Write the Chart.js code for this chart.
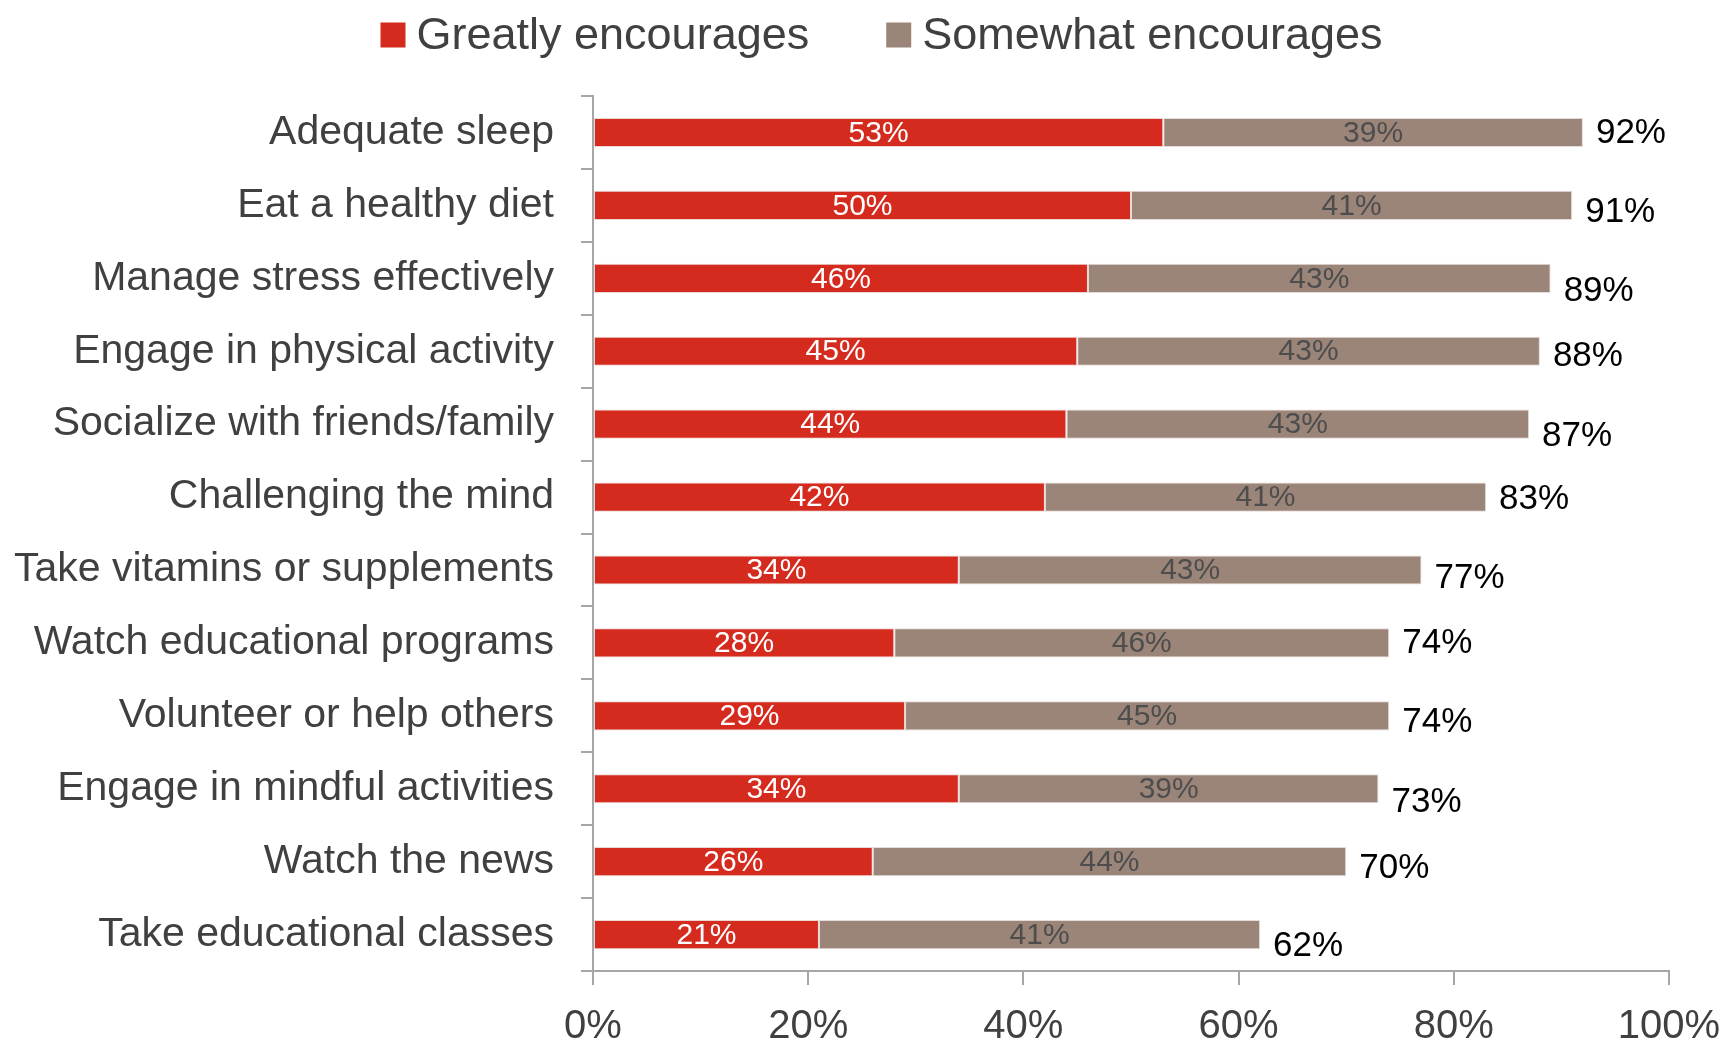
<!DOCTYPE html>
<html>
<head>
<meta charset="utf-8">
<script src="https://cdn.jsdelivr.net/npm/chart.js@4"></script>
<style>
  html, body { margin: 0; padding: 0; background: #ffffff; }
  #wrap { width: 1729px; height: 1052px; position: relative; }
</style>
</head>
<body>
<div id="wrap"><canvas id="encourageChart"></canvas></div>
<script>
const activities = [
  'Adequate sleep',
  'Eat a healthy diet',
  'Manage stress effectively',
  'Engage in physical activity',
  'Socialize with friends/family',
  'Challenging the mind',
  'Take vitamins or supplements',
  'Watch educational programs',
  'Volunteer or help others',
  'Engage in mindful activities',
  'Watch the news',
  'Take educational classes'
];
const greatly = [53, 50, 46, 45, 44, 42, 34, 28, 29, 34, 26, 21];
const somewhat = [39, 41, 43, 43, 43, 41, 43, 46, 45, 39, 44, 41];
const xTicks = [0, 20, 40, 60, 80, 100];

// vertical nudge (px) of each total label, they were placed by hand
const totalLabelDy = [0, 6, 12, 4, 11, 1, 7, -1, 6, 13, 6, 11];

const FONT = '"Liberation Sans", Arial, sans-serif';
const TEXT_GREY = '#404040';
const AXIS_GREY = '#a6a6a6';

// Legend drawn by hand so box/text spacing can be controlled
const legendPlugin = {
  id: 'topLegend',
  afterDraw(chart) {
    const ctx = chart.ctx;
    const box = 25, gap = 11, itemGap = 77, cy = 37;
    ctx.save();
    ctx.font = '45px ' + FONT;
    ctx.textBaseline = 'middle';
    const items = chart.data.datasets.map(ds => ({
      text: ds.label, color: ds.backgroundColor, w: ctx.measureText(ds.label).width
    }));
    const total = items.reduce((s, it) => s + box + gap + it.w, 0) + itemGap * (items.length - 1);
    let x = chart.width / 2 - total / 2 + 17;
    items.forEach(it => {
      ctx.fillStyle = it.color;
      ctx.fillRect(x, cy - box / 2 - 2, box, box);
      ctx.fillStyle = TEXT_GREY;
      ctx.textAlign = 'left';
      ctx.fillText(it.text, x + box + gap, cy);
      x += box + gap + it.w + itemGap;
    });
    ctx.restore();
  }
};

// Segment values inside bars, total at the end of each row
const barLabelsPlugin = {
  id: 'barLabels',
  afterDatasetsDraw(chart) {
    const ctx = chart.ctx;
    ctx.save();
    ctx.textBaseline = 'middle';
    chart.data.datasets.forEach((ds, di) => {
      const meta = chart.getDatasetMeta(di);
      ctx.font = '30px ' + FONT;
      ctx.textAlign = 'center';
      ctx.fillStyle = di === 0 ? '#ffffff' : '#4d4d4d';
      meta.data.forEach((bar, i) => {
        ctx.fillText(ds.data[i] + '%', (bar.x + bar.base) / 2, bar.y + 1);
      });
    });
    const last = chart.getDatasetMeta(chart.data.datasets.length - 1);
    ctx.font = '35px ' + FONT;
    ctx.textAlign = 'left';
    ctx.fillStyle = '#000000';
    last.data.forEach((bar, i) => {
      const total = chart.data.datasets.reduce((s, ds) => s + ds.data[i], 0);
      ctx.fillText(total + '%', bar.x + 13, bar.y + 1 + totalLabelDy[i]);
    });
    ctx.restore();
  }
};

const ctx = document.getElementById('encourageChart').getContext('2d');
new Chart(ctx, {
  type: 'bar',
  data: {
    labels: activities,
    datasets: [{
      label: 'Greatly encourages',
      data: greatly,
      backgroundColor: '#d52b1e',
      borderColor: '#ecd6d3',
      borderWidth: 1,
      borderSkipped: false
    }, {
      label: 'Somewhat encourages',
      data: somewhat,
      backgroundColor: '#9b8579',
      borderColor: '#e4dcd8',
      borderWidth: 1,
      borderSkipped: false
    }]
  },
  options: {
    indexAxis: 'y',
    responsive: true,
    maintainAspectRatio: false,
    animation: false,
    datasets: {
      bar: { barPercentage: 0.4, categoryPercentage: 1 }
    },
    layout: {
      padding: { top: 96, right: 60, left: 0, bottom: 0 }
    },
    plugins: {
      legend: { display: false },
      tooltip: { enabled: false }
    },
    scales: {
      x: {
        stacked: true,
        min: 0,
        max: 100,
        afterFit: function(scale) {
          scale.height = 81;
          scale.paddingLeft = 0;
          scale.paddingRight = 0;
        },
        afterBuildTicks: function(scale) {
          scale.ticks = xTicks.map(v => ({ value: v }));
        },
        border: { color: AXIS_GREY, width: 2 },
        grid: { drawOnChartArea: false, tickLength: 14, color: AXIS_GREY, lineWidth: 2 },
        ticks: {
          padding: 18,
          color: TEXT_GREY,
          font: { family: FONT, size: 40 },
          callback: function(value) { return value + '%'; }
        }
      },
      y: {
        stacked: true,
        afterFit: function(scale) { scale.width = 593; },
        border: { color: AXIS_GREY, width: 2 },
        grid: { offset: true, drawOnChartArea: false, tickLength: 12, color: AXIS_GREY, lineWidth: 2 },
        ticks: {
          padding: 27,
          color: TEXT_GREY,
          font: { family: FONT, size: 41 }
        }
      }
    }
  },
  plugins: [legendPlugin, barLabelsPlugin]
});
</script>
</body>
</html>
